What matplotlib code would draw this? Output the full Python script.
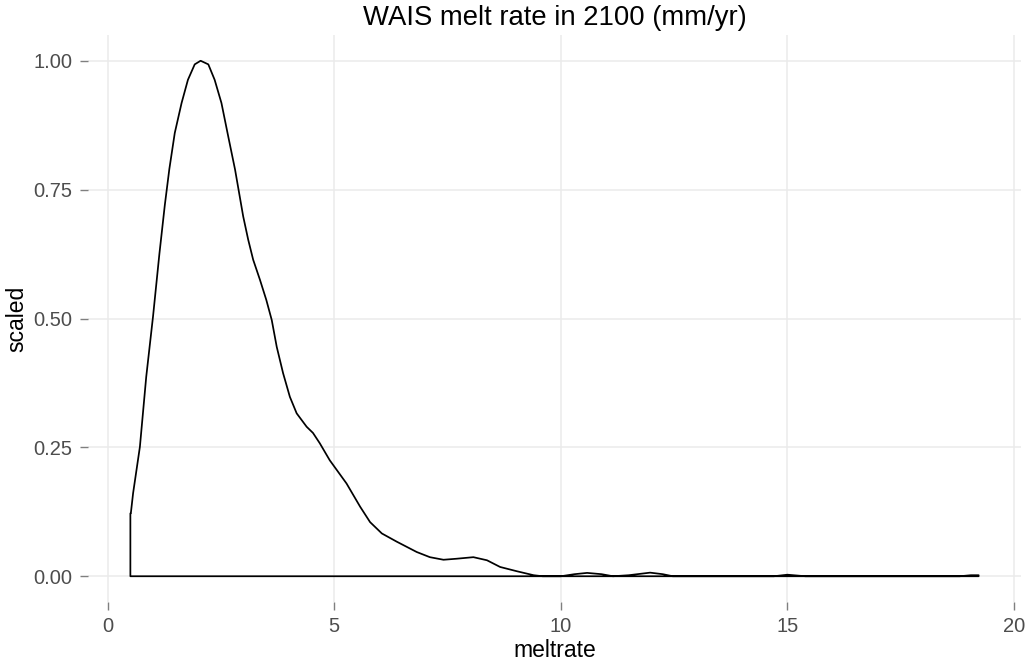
import matplotlib.pyplot as plt

plt.rcParams['font.family'] = ['Liberation Sans', 'DejaVu Sans']

# scaled density of WAIS melt rate
meltrate = [0.5, 0.5, 0.51, 0.56, 0.71, 0.85, 1.0, 1.14, 1.26, 1.36, 1.48,
            1.63, 1.77, 1.92, 2.05, 2.22, 2.36, 2.51, 2.66, 2.81, 2.99, 3.10,
            3.21, 3.36, 3.5, 3.62, 3.73, 3.87, 4.02, 4.17, 4.39, 4.53, 4.68,
            4.90, 5.27, 5.57, 5.79, 6.05, 6.38, 6.82, 7.11, 7.41, 7.70, 8.07,
            8.37, 8.66, 9.03, 9.40, 9.6, 10.0, 10.3, 10.58, 10.9, 11.15, 11.5,
            11.97, 12.25, 12.47, 14.7, 15.0, 15.4, 18.8, 19.05, 19.22, 19.22]
scaled = [0.0, 0.122, 0.122, 0.161, 0.251, 0.387, 0.504, 0.625, 0.720, 0.790,
          0.860, 0.918, 0.963, 0.993, 1.0, 0.993, 0.963, 0.918, 0.853, 0.789,
          0.698, 0.653, 0.614, 0.575, 0.536, 0.497, 0.445, 0.394, 0.348,
          0.316, 0.290, 0.278, 0.258, 0.225, 0.180, 0.135, 0.105, 0.083,
          0.067, 0.047, 0.037, 0.032, 0.034, 0.037, 0.031, 0.018, 0.0097,
          0.002, 0.0, 0.0, 0.004, 0.0065, 0.004, 0.0, 0.002, 0.007, 0.004,
          0.0, 0.0, 0.003, 0.0, 0.0, 0.002, 0.002, 0.0]

x_ticks = [0, 5, 10, 15, 20]
y_ticks = [0.0, 0.25, 0.5, 0.75, 1.0]
y_ticklabels = ['0.00', '0.25', '0.50', '0.75', '1.00']

fig = plt.figure(figsize=(10.3, 6.65), dpi=100)
ax = fig.add_axes([0.0854, 0.0947, 0.9059, 0.8527])

ax.fill(meltrate, scaled, facecolor='none', edgecolor='black',
        linewidth=1.25, joinstyle='round')
ax.margins(x=0.05, y=0.05)

ax.set_xticks(x_ticks)
ax.set_yticks(y_ticks)
ax.set_yticklabels(y_ticklabels)
ax.grid(True, color='#ebebeb', linewidth=1.1)
ax.set_axisbelow(True)
for s in ax.spines.values():
    s.set_visible(False)
ax.tick_params(length=6, width=1, color='#7f7f7f', labelcolor='#4d4d4d',
               labelsize=14.5, pad=5)

ax.set_xlabel('meltrate', fontsize=16.5, labelpad=2)
ax.set_ylabel('scaled', fontsize=16.5, labelpad=4)
ax.set_title('WAIS melt rate in 2100 (mm/yr)', fontsize=19.8, pad=7)

fig.savefig('out.png', dpi=100)
